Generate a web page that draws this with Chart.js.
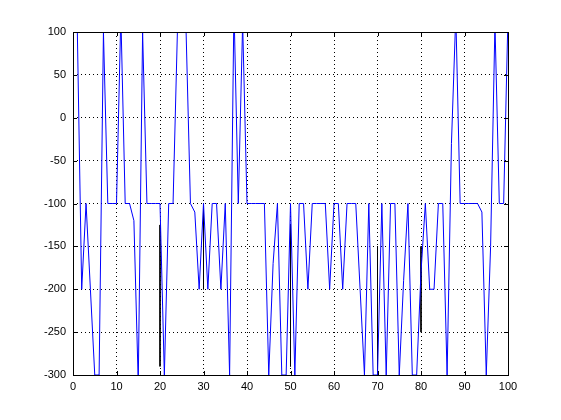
<!DOCTYPE html>
<html>
<head>
<meta charset="utf-8">
<script src="https://cdn.jsdelivr.net/npm/chart.js@4.4.1/dist/chart.umd.min.js"></script>
<style>
  html, body { margin: 0; padding: 0; background: #ffffff; }
  #wrap { width: 561px; height: 420px; }
</style>
</head>
<body>
<div id="wrap"><canvas id="plot"></canvas></div>
<script>
// signal values, one per sample (x = 0..100)
const blueValues = [
    100, 100, -200, -100, -200, -300, -300, 100, -100, -100,
    -100, 120, -100, -100, -120, -310, 100, -100, -100, -100,
    -100, -300, -100, -100, 100, 180, 100, -100, -110, -200,
    -100, -200, -100, -100, -200, -100, -300, 130, -100, 110,
    -100, -100, -100, -100, -100, -300, -170, -100, -300, -300,
    -100, -300, -100, -100, -200, -100, -100, -100, -100, -200,
    -100, -100, -200, -100, -100, -100, -200, -300, -100, -300,
    -300, -100, -300, -100, -100, -300, -190, -100, -300, -300,
    -180, -100, -200, -200, -100, -100, -300, -30, 120, -100,
    -100, -100, -100, -100, -110, -300, -150, 110, -100, -100,
    120
];

// black trace: only the short pieces that show from under the blue one
const blackX = [20, 30, 50, 70, 80];
const blackTop = [-125, -100, -125, -150, -150];
const blackBottom = [-290, -200, -290, -300, -250];

const xTicks = [0, 10, 20, 30, 40, 50, 60, 70, 80, 90, 100];
const yTicks = [-300, -250, -200, -150, -100, -50, 0, 50, 100];

const bluePoints = blueValues.map(function(v, i) { return { x: i, y: v }; });
const blackPoints = [];
blackX.forEach(function(x, i) {
    blackPoints.push({ x: x, y: blackTop[i] });
    blackPoints.push({ x: x, y: blackBottom[i] });
    blackPoints.push({ x: x, y: null });
});

// box round the axes and the small inward tick marks, matlab style
const axesBox = {
    id: 'axesBox',
    afterDatasetsDraw(chart) {
        const ctx = chart.ctx;
        const a = chart.chartArea;
        const xs = chart.scales.x;
        const ys = chart.scales.y;
        const len = 4;
        ctx.save();
        ctx.strokeStyle = '#000000';
        ctx.lineWidth = 1;
        ctx.beginPath();
        xTicks.forEach(function(t) {
            const px = Math.round(xs.getPixelForValue(t)) + 0.5;
            ctx.moveTo(px, a.bottom); ctx.lineTo(px, a.bottom - len);
            ctx.moveTo(px, a.top); ctx.lineTo(px, a.top + len);
        });
        yTicks.forEach(function(t) {
            const py = Math.round(ys.getPixelForValue(t)) + 0.5;
            ctx.moveTo(a.left, py); ctx.lineTo(a.left + len, py);
            ctx.moveTo(a.right, py); ctx.lineTo(a.right - len, py);
        });
        ctx.stroke();
        ctx.strokeRect(Math.round(a.left) + 0.5, Math.round(a.top) + 0.5,
            Math.round(a.right - a.left), Math.round(a.bottom - a.top));
        ctx.restore();
    }
};

const whiteBg = {
    id: 'whiteBg',
    beforeDraw(chart) {
        const ctx = chart.ctx;
        ctx.save();
        ctx.fillStyle = '#ffffff';
        ctx.fillRect(0, 0, chart.width, chart.height);
        ctx.restore();
    }
};

const gridStyle = {
    color: '#000000',
    lineWidth: 1,
    drawTicks: false
};

new Chart(document.getElementById('plot'), {
    type: 'line',
    data: {
        datasets: [{
            data: bluePoints,
            borderColor: '#0000ff',
            borderWidth: 1,
            pointRadius: 0,
            tension: 0,
            fill: false
        }, {
            data: blackPoints,
            borderColor: '#000000',
            borderWidth: 1,
            pointRadius: 0,
            tension: 0,
            fill: false,
            spanGaps: false
        }]
    },
    options: {
        responsive: true,
        maintainAspectRatio: false,
        animation: false,
        layout: { padding: { top: 32, right: 53, left: 0, bottom: 0 } },
        plugins: {
            legend: { display: false },
            tooltip: { enabled: false }
        },
        scales: {
            x: {
                type: 'linear',
                min: 0,
                max: 100,
                afterFit: function(s) { s.height = 45; },
                afterBuildTicks: function(s) { s.ticks = xTicks.map(function(v) { return { value: v }; }); },
                ticks: {
                    color: '#000000',
                    padding: 5,
                    maxRotation: 0,
                    font: { family: 'Liberation Sans, Arial, sans-serif', size: 11 },
                    callback: function(v) { return String(v); }
                },
                grid: gridStyle,
                border: { display: false, dash: [1, 3] }
            },
            y: {
                type: 'linear',
                min: -300,
                max: 100,
                afterFit: function(s) { s.width = 73; },
                afterBuildTicks: function(s) { s.ticks = yTicks.map(function(v) { return { value: v }; }); },
                ticks: {
                    color: '#000000',
                    padding: 7,
                    font: { family: 'Liberation Sans, Arial, sans-serif', size: 11 },
                    callback: function(v) { return String(v); }
                },
                grid: gridStyle,
                border: { display: false, dash: [1, 3] }
            }
        }
    },
    plugins: [whiteBg, axesBox]
});
</script>
</body>
</html>
